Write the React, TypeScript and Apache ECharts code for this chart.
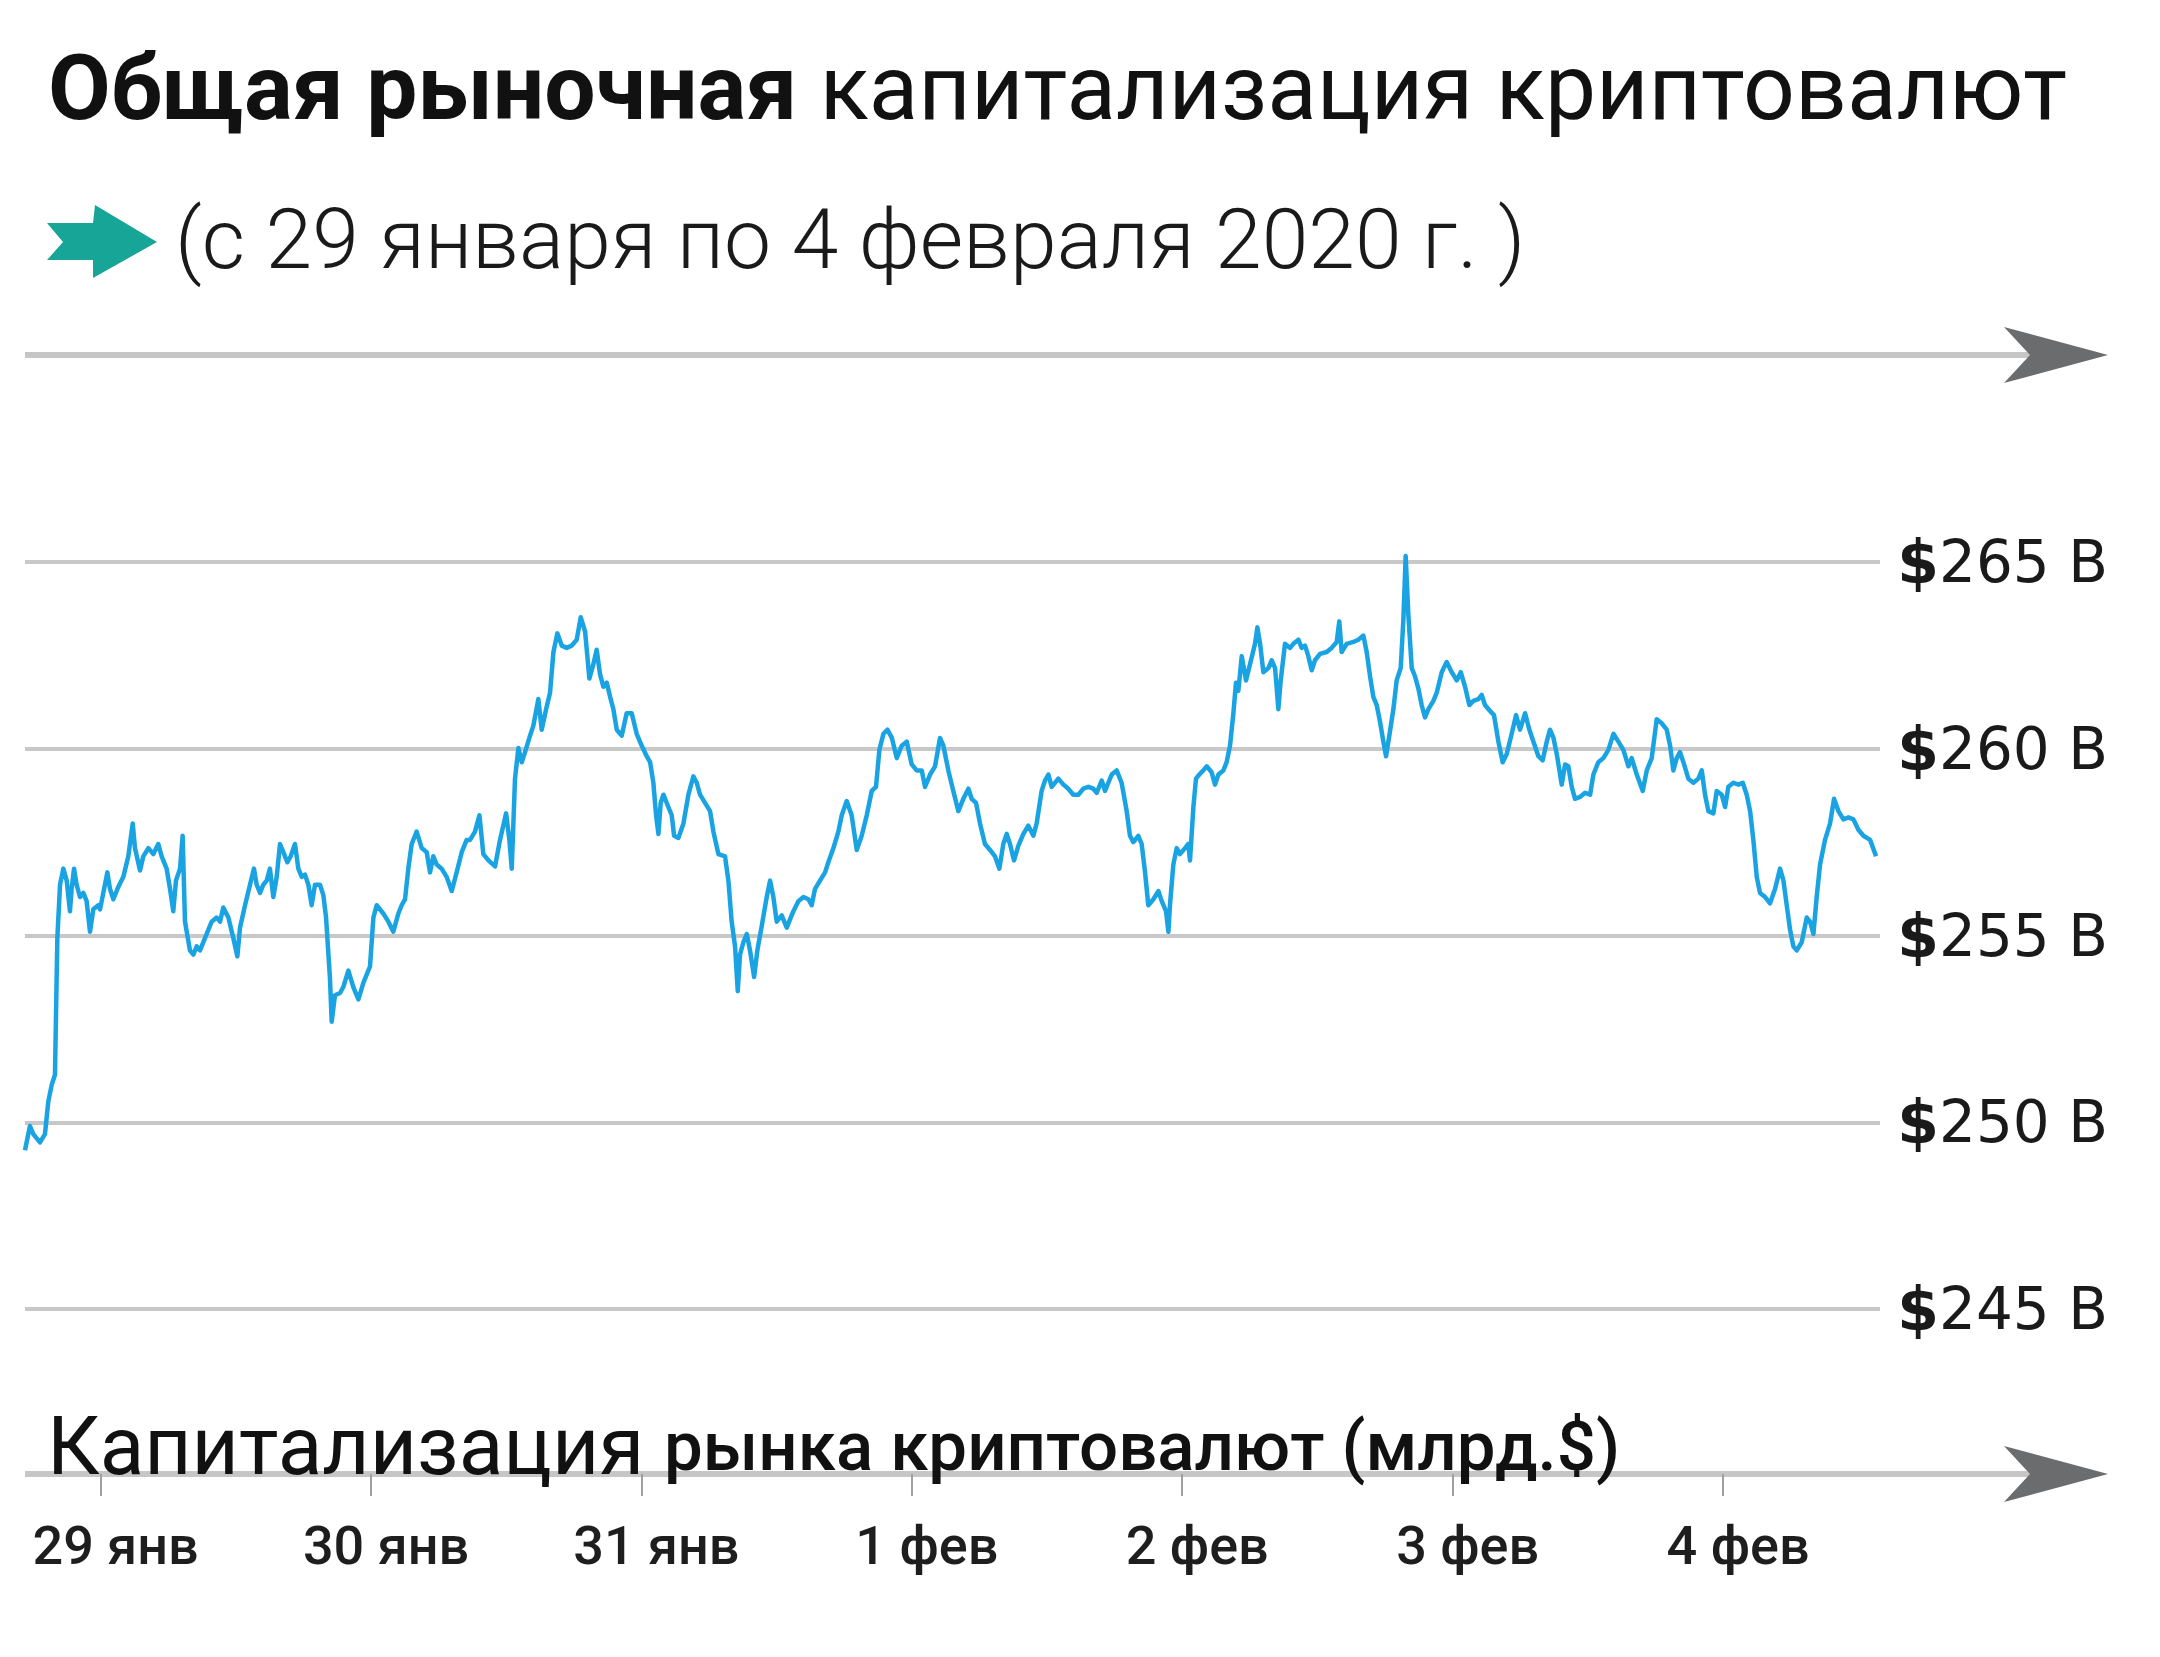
import { useEffect, useRef } from 'react';
import * as echarts from 'echarts';

// Hours since 29 Jan 2020 00:00
const hours = [
  -6.71, -6.27, -5.97, -5.38, -4.94, -4.64, -4.34, -4.05, -3.84, -3.6, -3.31, -3.01, -2.72, -2.57, -2.36, -2.13,
  -1.83, -1.53, -1.24, -0.94, -0.65, -0.2, -0.05, 0.24, 0.6, 0.83, 1.13, 1.57, 2.02, 2.46, 2.85, 3.05, 3.5, 3.79,
  4.24, 4.68, 5.12, 5.42, 5.86, 6.16, 6.45, 6.69, 7.05, 7.28, 7.49, 7.93, 8.23, 8.53, 8.82, 9.12, 9.41, 9.86, 10.3,
  10.6, 10.89, 11.34, 11.78, 12.14, 12.37, 12.82, 13.26, 13.61, 13.85, 14.15, 14.44, 14.74, 15.03, 15.33, 15.63,
  15.92, 16.22, 16.57, 16.87, 17.25, 17.55, 17.85, 18.14, 18.44, 18.73, 19.03, 19.47, 19.77, 20.01, 20.36, 20.51,
  20.8, 21.25, 21.54, 21.99, 22.43, 22.88, 23.32, 23.91, 24.21, 24.5, 25.09, 25.54, 25.98, 26.43, 26.72, 27.02,
  27.31, 27.61, 28.05, 28.5, 28.94, 29.24, 29.53, 29.83, 30.27, 30.71, 31.16, 31.6, 32.05, 32.49,
  32.79, 33.23, 33.62, 33.97, 34.42, 35.01, 35.45, 35.99, 36.28, 36.49, 36.78, 37.08, 37.38, 37.67, 38.06, 38.41,
  38.85, 39.15, 39.54, 39.89, 40.19, 40.54, 40.93, 41.37, 41.81, 42.26, 42.61, 43.0, 43.38, 43.74, 44.03, 44.33,
  44.62, 44.92, 45.22, 45.51, 45.81, 46.25, 46.69, 47.14, 47.58, 48.03, 48.47, 48.77, 49.06, 49.3, 49.51, 49.71,
  49.95, 50.39, 50.69, 50.9, 51.28, 51.73, 52.17, 52.61, 52.91, 53.2, 53.65, 54.09, 54.39, 54.83, 55.42, 55.72,
  56.01, 56.31, 56.55, 56.75, 57.05, 57.35, 57.64, 58.0, 58.29, 58.68, 59.12, 59.42, 59.71, 60.01, 60.45, 60.9,
  61.19, 61.49, 61.93, 62.38, 62.82, 63.11, 63.41, 63.85, 64.3, 64.59, 65.04, 65.48, 65.78, 66.22, 66.66, 67.11,
  67.55, 68.0, 68.44, 68.82, 69.12, 69.48, 69.83, 70.22, 70.66, 71.1, 71.55, 71.99, 72.43, 72.88, 73.17, 73.62, 74.06,
  74.5, 74.8, 75.24, 75.68, 76.13, 76.57, 77.02, 77.31, 77.7, 78.05, 78.49, 78.94, 79.38, 79.77, 80.12, 80.42,
  80.71, 81.07, 81.45, 81.9, 82.34, 82.79, 83.08, 83.52, 83.82, 84.12, 84.41, 84.71, 85.0, 85.45, 85.89, 86.33,
  86.78, 87.22, 87.67, 88.11, 88.41, 88.85, 89.15, 89.44, 89.74, 90.18, 90.62, 91.07, 91.36, 91.66, 92.1, 92.4,
  92.7, 92.99, 93.44, 93.88, 94.18, 94.56, 94.77, 94.91, 95.21, 95.51, 95.8, 96.25, 96.54, 96.69, 96.99, 97.22,
  97.52, 97.87, 98.17, 98.61, 98.91, 99.21, 99.65, 99.94, 100.24, 100.54, 100.77, 100.98, 101.28, 101.66, 102.02,
  102.46, 102.67, 102.91, 103.2, 103.65, 103.94, 104.24, 104.53, 104.74, 105.12, 105.57, 105.86, 106.31, 106.6,
  106.9, 107.19, 107.49, 107.78, 108.23, 108.82, 109.26, 109.71, 109.94, 110.15, 110.6, 111.19, 111.63, 112.08,
  112.37, 112.67, 112.96, 113.26, 113.55, 113.85, 114.09, 114.38, 114.74, 115.03, 115.39, 115.63, 115.83, 116.07,
  116.37, 116.66, 116.96, 117.25, 117.55, 117.85, 118.29, 118.59, 119.03, 119.47, 119.92, 120.36, 120.72, 121.1,
  121.48, 121.84, 122.28, 122.58, 122.87, 123.32, 123.67, 124.06, 124.44, 124.8, 125.24, 125.63, 125.98, 126.43,
  126.81, 127.17, 127.61, 127.99, 128.35, 128.64, 128.94, 129.24, 129.68, 129.98, 130.27, 130.57, 130.86, 131.31,
  131.75, 132.2, 132.49, 132.93, 133.38, 133.82, 134.27, 134.71, 135.15, 135.6, 135.89, 136.34, 136.87, 137.23,
  137.67, 138.11, 138.56, 139.0, 139.3, 139.59, 139.89, 140.18, 140.48, 140.92, 141.37, 141.81, 142.11, 142.4,
  142.7, 143.14, 143.44, 143.88, 144.18, 144.47, 144.92, 145.36, 145.75, 146.1, 146.4, 146.69, 146.99, 147.28,
  147.73, 148.17, 148.62, 149.06, 149.36, 149.65, 149.95, 150.24, 150.54, 150.98, 151.43, 151.72, 152.02, 152.31,
  152.61, 153.05, 153.5, 153.85, 154.24, 154.68, 155.13, 155.57, 156.01, 156.46, 157.05, 157.58,
];

// Total crypto market capitalisation, billions of USD
const capB = [
  249.25, 249.9, 249.68, 249.46, 249.68, 250.56, 251.0, 251.27, 254.93, 256.36, 256.79, 256.47, 255.65, 256.25, 256.79, 256.36,
  256.03, 256.14, 255.92, 255.1, 255.7, 255.81, 255.7, 256.14, 256.69, 256.25, 255.97, 256.3, 256.57, 257.12, 258.0, 257.34, 256.74, 257.12,
  257.34, 257.18, 257.45, 257.12, 256.79, 256.25, 255.65, 256.47, 256.79, 257.67, 255.37, 254.6, 254.49, 254.71, 254.6, 254.82, 255.04, 255.37, 255.48,
  255.37, 255.75, 255.48, 254.93, 254.44, 255.21, 255.81, 256.36, 256.79, 256.36, 256.14, 256.36, 256.47, 256.79, 256.03, 256.57,
  257.45, 257.23, 256.96, 257.12, 257.45, 256.79, 256.57, 256.63, 256.36, 255.81, 256.36, 256.36, 256.08, 255.48, 253.84, 252.69,
  253.4, 253.46, 253.62, 254.06, 253.62, 253.29, 253.73, 254.17, 255.48, 255.81, 255.59, 255.37, 255.1, 255.59, 255.81, 255.97,
  256.79, 257.45, 257.78, 257.34, 257.23, 256.69, 257.12, 256.9, 256.79, 256.57, 256.19, 256.69, 257.23, 257.56,
  257.56, 257.78, 258.22, 257.18, 257.01, 256.85, 257.56, 258.27, 257.56, 256.79, 259.2, 260.02, 259.64, 259.91, 260.3, 260.62,
  261.33, 260.51, 261.06, 261.5, 262.59, 263.09, 262.76, 262.7, 262.76, 262.92, 263.52, 263.14, 261.88, 262.27, 262.65, 261.99,
  261.66, 261.77, 261.39, 261.06, 260.51, 260.35, 260.95, 260.95, 260.4, 260.08, 259.8, 259.64, 259.09, 258.22, 257.72, 258.55,
  258.77, 258.44, 258.22, 257.67, 257.61, 258.0, 258.77, 259.26, 259.09, 258.77, 258.55, 258.33, 257.78, 257.18, 257.12, 256.47,
  255.37, 254.71, 253.51, 254.49, 254.82, 255.04, 254.6, 253.89, 254.6, 255.26, 256.03, 256.47, 256.03, 255.37, 255.54, 255.21,
  255.43, 255.65, 255.92, 256.03, 255.97, 255.81, 256.25, 256.47, 256.69, 256.96, 257.34, 257.78, 258.22, 258.6, 258.22, 257.29,
  257.67, 258.22, 258.87, 258.98, 259.97, 260.4, 260.51, 260.3, 259.75, 260.08, 260.19, 259.58, 259.42, 259.42, 258.98, 259.31, 259.53,
  260.29, 260.08, 259.42, 258.87, 258.33, 258.66, 258.93, 258.66, 258.55, 258.0, 257.45, 257.29, 257.12, 256.79, 257.45, 257.72,
  257.45, 257.01, 257.4, 257.72, 257.94, 257.67, 258.0, 258.87, 259.15, 259.31, 258.98, 259.09, 259.2, 259.04, 258.93, 258.77,
  258.77, 258.93, 258.98, 258.93, 258.82, 259.15, 258.87, 259.09, 259.31, 259.42, 259.09, 258.33, 257.67, 257.5, 257.67, 257.45,
  256.69, 255.81, 255.97, 256.19, 255.92, 255.65, 255.1, 255.81, 256.9, 257.34, 257.18, 257.34, 257.45, 257.01, 258.44, 259.2,
  259.31, 259.42, 259.53, 259.37, 259.04, 259.31, 259.42, 259.64, 260.08, 260.95, 261.77, 261.55, 262.48, 261.83, 262.27,
  262.81, 263.25, 262.81, 262.05, 262.16, 262.37, 262.16, 261.06, 261.83, 262.81, 262.7, 262.81, 262.92, 262.7,
  262.76, 262.48, 262.1, 262.37, 262.54, 262.59, 262.7, 262.86, 263.41, 262.59, 262.81, 262.86, 262.92, 263.03,
  262.59, 261.94, 261.39, 261.17, 260.73, 260.19, 259.8, 260.35, 261.06, 261.83, 262.16, 263.47, 265.16, 263.58,
  262.16, 261.94, 261.61, 261.17, 260.84, 261.06, 261.28, 261.5, 262.05, 262.32, 262.05, 261.83, 262.05, 261.66,
  261.17, 261.28, 261.33, 261.44, 261.17, 261.01, 260.9, 260.19, 259.64, 259.86, 260.4, 260.9, 260.51, 260.95,
  260.51, 260.19, 259.8, 259.69, 260.19, 260.51, 260.3, 259.86, 259.04, 259.58, 259.53, 258.98, 258.66, 258.71,
  258.82, 258.77, 259.31, 259.64, 259.75, 259.97, 260.4, 260.19, 259.97, 259.53, 259.75, 259.31, 258.87, 259.42,
  259.75, 260.79, 260.68, 260.51, 260.08, 259.42, 259.75, 259.91, 259.64, 259.2, 259.09, 259.2, 259.42, 258.77,
  258.33, 258.27, 258.87, 258.77, 258.44, 258.98, 259.09, 259.04, 259.09, 258.77, 258.33, 257.56, 256.57, 256.14,
  256.03, 255.86, 256.25, 256.79, 256.47, 255.81, 255.15, 254.71, 254.6, 254.82, 255.48, 255.37, 255.04, 256.03,
  256.9, 257.56, 258.0, 258.66, 258.33, 258.11, 258.16, 258.11, 257.83, 257.67, 257.56, 257.12,
];

const tickHours = [0, 24, 48, 72, 96, 120, 144];
const tickLabels = ['29 янв', '30 янв', '31 янв', '1 фев', '2 фев', '3 фев', '4 фев'];
const yMin = 245;
const yMax = 265;
const yStep = 5;

const titleBold = 'Общая рыночная';
const titleRegular = 'капитализация криптовалют';
const subtitle = '(с 29 января по 4 февраля 2020 г. )';
const captionA = 'Капитализация';
const captionB = 'рынка криптовалют (млрд.$)';

export default function App() {
  const ref = useRef<HTMLDivElement>(null);
  useEffect(() => {
    document.body.style.margin = '0';
    const chart = echarts.init(ref.current!, null, { renderer: 'svg', width: 2160, height: 1657 });
    const lineGray = '#c6c6c6';
    const headGray = '#6b6c6e';
    const option: any = {
      animation: false,
      backgroundColor: '#ffffff',
      grid: { left: 25, right: 280, top: 562, height: 747, containLabel: false },
      xAxis: {
        type: 'value',
        min: -6.71,
        max: 157.93,
        position: 'bottom',
        offset: 165,
        axisLine: { show: false },
        splitLine: { show: false },
        axisTick: {
          show: true,
          customValues: tickHours,
          length: 22,
          lineStyle: { color: '#a0a0a0', width: 2 },
        },
        axisLabel: {
          customValues: tickHours,
          formatter: (v: number) => {
            const i = tickHours.indexOf(v);
            return i >= 0 ? tickLabels[i] : '';
          },
          fontFamily: 'Roboto',
          fontWeight: 500,
          fontSize: 54,
          color: '#1e1e1e',
          margin: 44,
          padding: [0, 0, 0, 30],
        },
      },
      yAxis: {
        type: 'value',
        position: 'right',
        min: yMin,
        max: yMax,
        interval: yStep,
        axisLine: { show: false },
        axisTick: { show: false },
        splitLine: { lineStyle: { color: '#c8c8c8', width: 4 } },
        axisLabel: {
          align: 'right',
          margin: 228,
          formatter: (v: number) => `{d|$}{n|${v} B}`,
          rich: {
            d: { fontFamily: 'DejaVu Sans', fontWeight: 'bold', fontSize: 60, color: '#1a1a1a' },
            n: { fontFamily: 'DejaVu Sans', fontWeight: 'normal', fontSize: 58, color: '#1a1a1a' },
          },
        },
      },
      series: [
        {
          type: 'line',
          data: hours.map((h, i) => [h, capB[i]]),
          showSymbol: false,
          symbol: 'none',
          clip: false,
          lineStyle: { color: '#1aa3e3', width: 4.5, join: 'round' },
          z: 5,
        },
      ],
      graphic: [
        // top arrow line
        { type: 'line', shape: { x1: 25, y1: 355, x2: 2032, y2: 355 }, style: { stroke: lineGray, lineWidth: 6 } },
        {
          type: 'polygon',
          shape: { points: [[2004, 327], [2108, 355], [2004, 383], [2030, 355]] },
          style: { fill: headGray },
        },
        // bottom arrow line
        { type: 'line', shape: { x1: 25, y1: 1474, x2: 2032, y2: 1474 }, style: { stroke: lineGray, lineWidth: 6 } },
        {
          type: 'polygon',
          shape: { points: [[2004, 1446], [2108, 1474], [2004, 1502], [2030, 1474]] },
          style: { fill: headGray },
        },
        // teal arrow
        {
          type: 'polygon',
          shape: {
            points: [[47, 223], [93, 223], [95, 205], [157, 242], [93, 278], [93, 260], [47, 260], [63, 242]],
          },
          style: { fill: '#17a597' },
        },
        // title
        {
          type: 'text',
          x: 48,
          y: 88,
          style: {
            text: `{b|${titleBold}} {r|${titleRegular}}`,
            verticalAlign: 'middle',
            align: 'left',
            font: '400 91px Roboto',
            fill: '#111',
            rich: {
              b: { fontFamily: 'Roboto', fontWeight: 700, fontSize: 91, fill: '#111' },
              r: { fontFamily: 'Roboto', fontWeight: 400, fontSize: 91, fill: '#111' },
            },
          },
        },
        // subtitle
        {
          type: 'text',
          x: 175,
          y: 239,
          style: {
            text: subtitle,
            verticalAlign: 'middle',
            align: 'left',
            font: '300 84px Roboto',
            fill: '#1a1a1a',
          },
        },
        // bottom caption
        {
          type: 'text',
          x: 47,
          y: 1446,
          z: 10,
          style: {
            text: `{a|${captionA}} {b|${captionB}}`,
            verticalAlign: 'middle',
            align: 'left',
            font: '400 80px Roboto',
            fill: '#111',
            rich: {
              a: { fontFamily: 'Roboto', fontWeight: 400, fontSize: 82, fill: '#111' },
              b: { fontFamily: 'Roboto', fontWeight: 500, fontSize: 69, fill: '#111' },
            },
          },
        },
      ],
    };
    chart.setOption(option);
    return () => chart.dispose();
  }, []);
  return <div ref={ref} style={{ width: 2160, height: 1657, background: '#fff' }} />;
}
